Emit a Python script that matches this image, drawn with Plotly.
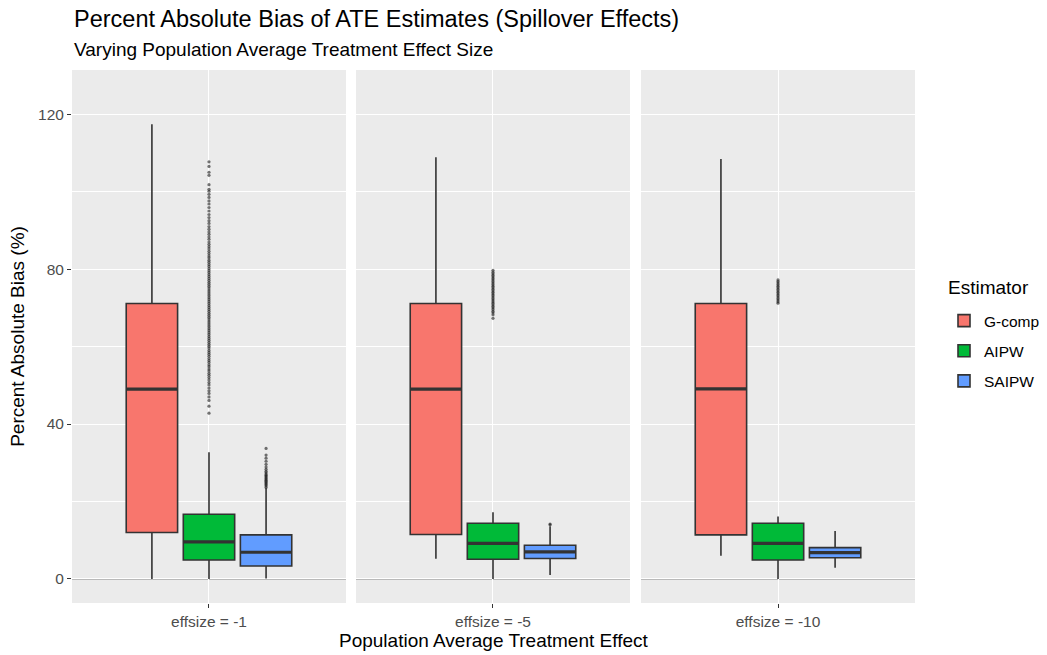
import plotly.graph_objects as go

# ---- data -------------------------------------------------------------
estimators = ["G-comp", "AIPW", "SAIPW"]
effsizes = ["effsize = -1", "effsize = -5", "effsize = -10"]
colors = ["#F8766D", "#00BA38", "#619CFF"]

# five-number summaries per facet, one entry per estimator
lower_eff1 = [0.0, 0.0, 0.1]
q1_eff1 = [12.0, 4.9, 3.35]
med_eff1 = [49.0, 9.6, 6.9]
q3_eff1 = [71.1, 16.7, 11.4]
upper_eff1 = [117.4, 32.7, 23.4]

lower_eff5 = [5.2, 0.0, 1.0]
q1_eff5 = [11.5, 5.1, 5.3]
med_eff5 = [49.0, 9.2, 7.0]
q3_eff5 = [71.1, 14.4, 8.7]
upper_eff5 = [108.9, 17.2, 13.6]

lower_eff10 = [6.0, 0.0, 2.9]
q1_eff10 = [11.4, 4.9, 5.5]
med_eff10 = [49.1, 9.2, 6.8]
q3_eff10 = [71.1, 14.4, 8.1]
upper_eff10 = [108.4, 16.1, 12.4]

# outlying estimates
out_aipw_eff1 = [42.8, 44.6, 46.1, 47.0, 47.9, 48.6, 49.3, 50.1, 50.7, 51.4, 52.0, 52.6,
                 53.1, 53.7, 54.2, 54.8, 55.3, 55.9, 56.4, 56.9, 57.5, 58.0, 58.5, 59.0,
                 59.6, 60.1, 60.6, 61.1, 61.6, 62.1, 62.6, 63.1, 63.6, 64.1, 64.6, 65.1,
                 65.6, 66.1, 66.6, 67.1, 67.6, 68.1, 68.6, 69.1, 69.6, 70.1, 70.6, 71.1,
                 71.6, 72.1, 72.6, 73.1, 73.6, 74.1, 74.6, 75.1, 75.6, 76.1, 76.6, 77.1,
                 77.6, 78.1, 78.6, 79.1, 79.6, 80.1, 80.7, 81.2, 81.8, 82.3, 82.9, 83.4,
                 84.0, 84.6, 85.2, 85.8, 86.4, 87.0, 87.7, 88.3, 89.0, 89.6, 90.3, 91.0,
                 91.8, 92.5, 93.3, 94.1, 95.0, 95.9, 96.8, 97.6, 98.5, 99.3, 100.1, 100.6,
                 101.8, 104.2, 105.0, 106.5, 107.7]
out_saipw_eff1 = [23.6, 24.0, 24.3, 24.6, 24.9, 25.2, 25.5, 25.8, 26.1, 26.4, 26.7,
                  27.0, 27.4, 27.8, 28.3, 28.9, 29.6, 30.4, 31.2, 32.0, 33.7]
out_aipw_eff5 = [67.3, 68.2, 68.7, 69.1, 69.6, 70.0, 70.4, 70.8, 71.2, 71.6, 72.0, 72.4,
                 72.8, 73.2, 73.6, 74.0, 74.4, 74.8, 75.2, 75.6, 76.0, 76.4, 76.8, 77.2,
                 77.6, 78.0, 78.4, 78.8, 79.2, 79.7]
out_saipw_eff5 = [14.0, 14.2]
out_aipw_eff10 = [71.2, 71.6, 72.0, 72.4, 72.8, 73.2, 73.6, 74.0, 74.4, 74.8, 75.2,
                  75.6, 76.0, 76.4, 76.8, 77.2]
out_saipw_eff10 = []

y_ticks = [0, 40, 80, 120]

facets = [
    (lower_eff1, q1_eff1, med_eff1, q3_eff1, upper_eff1, [[], out_aipw_eff1, out_saipw_eff1]),
    (lower_eff5, q1_eff5, med_eff5, q3_eff5, upper_eff5, [[], out_aipw_eff5, out_saipw_eff5]),
    (lower_eff10, q1_eff10, med_eff10, q3_eff10, upper_eff10, [[], out_aipw_eff10, out_saipw_eff10]),
]

# ---- layout constants -------------------------------------------------
FONT = "Liberation Sans"
DODGE = 0.25          # spacing between dodged boxes
BOX_W = 0.225         # box width in x units
CENTER = 1.0
OUTLINE = "#333333"

fig = go.Figure()

domains = [[0.0, 0.325], [0.3369, 0.6619], [0.675, 1.0]]

for f, (lo, q1, med, q3, hi, outs) in enumerate(facets):
    xa = "x" if f == 0 else f"x{f + 1}"
    ya = "y" if f == 0 else f"y{f + 1}"
    for i, est in enumerate(estimators):
        pos = CENTER + (i - 1) * DODGE
        fig.add_trace(go.Box(
            x=[pos], q1=[q1[i]], median=[med[i]], q3=[q3[i]],
            lowerfence=[lo[i]], upperfence=[hi[i]],
            width=BOX_W, whiskerwidth=0, boxpoints=False,
            fillcolor=colors[i], line=dict(color=OUTLINE, width=1.6),
            name=est, legendgroup=est, showlegend=(f == 0),
            xaxis=xa, yaxis=ya, hoverinfo="skip",
        ))
        # thicker median bar
        fig.add_trace(go.Scatter(
            x=[pos - BOX_W / 2, pos + BOX_W / 2], y=[med[i], med[i]],
            mode="lines", line=dict(color=OUTLINE, width=3.2),
            showlegend=False, legendgroup=est, xaxis=xa, yaxis=ya, hoverinfo="skip",
        ))
        if outs[i]:
            fig.add_trace(go.Scatter(
                x=[pos] * len(outs[i]), y=outs[i], mode="markers",
                marker=dict(color="rgba(25,25,25,0.6)", size=3.2, line=dict(width=0)),
                showlegend=False, legendgroup=est, xaxis=xa, yaxis=ya, hoverinfo="skip",
            ))

axis_common = dict(
    showline=False, zeroline=False, gridcolor="white", gridwidth=1.1,
    ticks="outside", ticklen=4, tickcolor=OUTLINE, tickwidth=1,
    tickfont=dict(family=FONT, size=15.5, color="#4D4D4D"),
)

layout = dict(
    width=1047, height=655,
    margin=dict(l=72, r=132, t=70, b=52),
    paper_bgcolor="white", plot_bgcolor="#EBEBEB",
    font=dict(family=FONT, color="black"),
    showlegend=True,
    legend=dict(
        font=dict(family=FONT, size=15.5, color="black"),
        xref="container", yref="container", x=944 / 1047, y=1 - 304 / 655,
        xanchor="left", yanchor="top", tracegroupgap=7, bgcolor="rgba(0,0,0,0)",
        itemwidth=30,
    ),
)

for f in range(3):
    sfx = "" if f == 0 else str(f + 1)
    layout[f"xaxis{sfx}"] = dict(
        axis_common, domain=domains[f], range=[0.4, 1.6],
        tickmode="array", tickvals=[CENTER], ticktext=[effsizes[f]],
        anchor=f"y{sfx}",
    )
    layout[f"yaxis{sfx}"] = dict(
        axis_common, domain=[0, 1], range=[-6.2, 131.4],
        tickmode="array", tickvals=y_ticks,
        showticklabels=(f == 0), ticks="outside" if f == 0 else "",
        minor=dict(tickvals=[20, 60, 100], showgrid=True, gridcolor="white", gridwidth=0.55, ticks=""),
        anchor=f"x{sfx}", matches=None if f == 0 else "y",
    )
    if f == 0:
        layout["yaxis"]["title"] = dict(
            text="Percent Absolute Bias (%)", standoff=8,
            font=dict(family=FONT, size=19, color="black"),
        )

fig.update_layout(**layout)

# horizontal reference line at zero across each panel
for f in range(3):
    sfx = "" if f == 0 else str(f + 1)
    fig.add_shape(type="line", xref=f"x{sfx} domain", yref=f"y{sfx}",
                  x0=0, x1=1, y0=0, y1=0, line=dict(color="#A9A9A9", width=1.5),
                  layer="below")

# plot area spans 72..915 px horizontally and 70..603 px vertically
fig.add_annotation(text="Percent Absolute Bias of ATE Estimates (Spillover Effects)",
                   xref="paper", yref="paper", x=0, y=(603 - 19) / 533,
                   xanchor="left", yanchor="middle", showarrow=False,
                   font=dict(family=FONT, size=23.5, color="black"))
fig.add_annotation(text="Varying Population Average Treatment Effect Size",
                   xref="paper", yref="paper", x=0, y=(603 - 49) / 533,
                   xanchor="left", yanchor="middle", showarrow=False,
                   font=dict(family=FONT, size=19, color="black"))
fig.add_annotation(text="Population Average Treatment Effect",
                   xref="paper", yref="paper", x=0.5, y=(603 - 640) / 533,
                   xanchor="center", yanchor="middle", showarrow=False,
                   font=dict(family=FONT, size=19, color="black"))
# legend heading
fig.add_annotation(text="Estimator",
                   xref="paper", yref="paper", x=(946 - 72) / 843, y=(603 - 287) / 533,
                   xanchor="left", yanchor="middle", showarrow=False,
                   font=dict(family=FONT, size=19, color="black"))

fig.write_html("out.html")
